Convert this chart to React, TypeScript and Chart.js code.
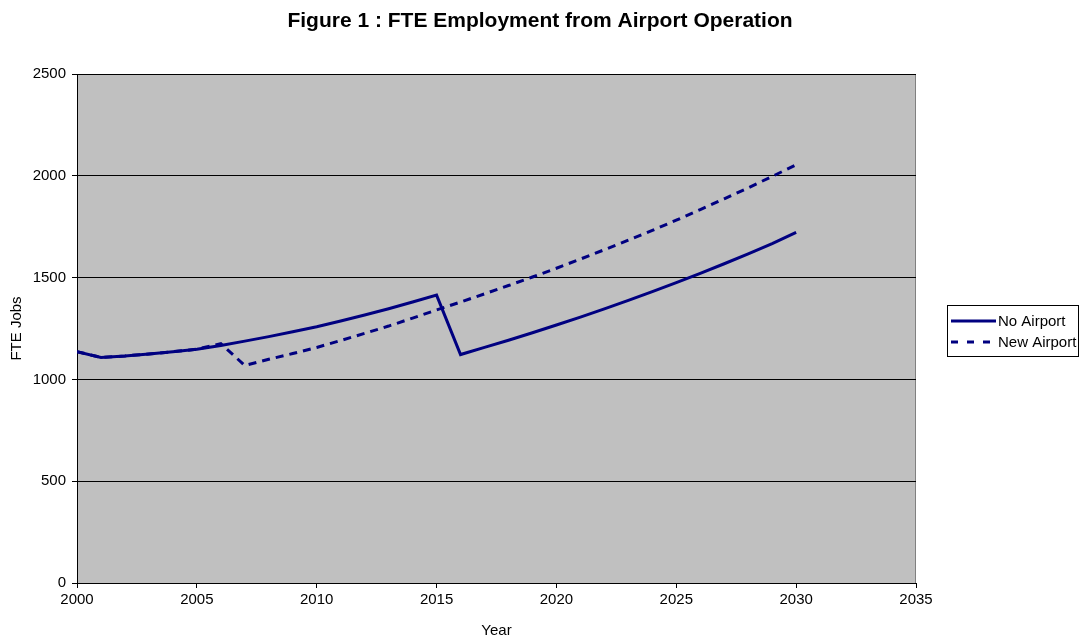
import React, { useEffect, useRef } from "react";
import { Chart, registerables } from "chart.js";

Chart.register(...registerables);

const chartTitle = "Figure 1 : FTE Employment from Airport Operation";
const xAxisTitle = "Year";
const yAxisTitle = "FTE Jobs";
const seriesNames = ["No Airport", "New Airport"];

const years = [
  2000, 2001, 2002, 2003, 2004, 2005, 2006, 2007, 2008, 2009, 2010, 2011, 2012, 2013, 2014, 2015,
  2016, 2017, 2018, 2019, 2020, 2021, 2022, 2023, 2024, 2025, 2026, 2027, 2028, 2029, 2030,
];

const noAirport = [
  1136, 1108, 1115, 1125, 1136, 1148, 1167, 1188, 1210, 1234, 1259, 1287, 1316, 1347, 1380, 1414,
  1122, 1157, 1192, 1229, 1267, 1306, 1346, 1388, 1431, 1475, 1521, 1568, 1617, 1667, 1722,
];

const newAirport = [
  1136, 1108, 1115, 1125, 1136, 1148, 1176, 1068, 1099, 1127, 1157, 1191, 1226, 1262, 1301, 1341,
  1380, 1420, 1461, 1503, 1546, 1591, 1637, 1684, 1732, 1782, 1834, 1887, 1941, 1997, 2054,
];

const xTicks = [2000, 2005, 2010, 2015, 2020, 2025, 2030, 2035];
const yTicks = [0, 500, 1000, 1500, 2000, 2500];

const FONT = "'Liberation Sans', Arial, Helvetica, sans-serif";
const NAVY = "#000080";
const SERIES_DASH = [8, 6];
const LEGEND_DASH = [7, 9];

export default function App() {
  const ref = useRef<HTMLCanvasElement>(null);

  useEffect(() => {
    document.body.style.margin = "0";
    const canvas = ref.current;
    if (!canvas) return;

    const plotBg = {
      id: "plotBg",
      beforeDraw(chart: any) {
        const { ctx, chartArea } = chart;
        const { left, top, right, bottom } = chartArea;
        ctx.save();
        ctx.fillStyle = "#C0C0C0";
        ctx.fillRect(left, top, right - left, bottom - top);
        ctx.strokeStyle = "#808080";
        ctx.lineWidth = 1;
        ctx.strokeRect(left + 0.5, top + 0.5, right - left - 1, bottom - top);
        ctx.restore();
      },
    };

    const overlay = {
      id: "overlay",
      afterDraw(chart: any) {
        const { ctx } = chart;
        ctx.save();
        // Title
        ctx.fillStyle = "#000";
        ctx.font = `bold 21px ${FONT}`;
        ctx.textAlign = "center";
        ctx.textBaseline = "middle";
        ctx.fillText(chartTitle, 540, 21);

        // Legend
        const bx = 947;
        const by = 305;
        const bw = 131;
        const bh = 51;
        ctx.fillStyle = "#FFFFFF";
        ctx.fillRect(bx, by, bw, bh);
        ctx.strokeStyle = "#000";
        ctx.lineWidth = 1;
        ctx.strokeRect(bx + 0.5, by + 0.5, bw, bh);

        const rows = [321, 342];
        chart.data.datasets.forEach((ds: any, i: number) => {
          const y = rows[i];
          ctx.strokeStyle = ds.borderColor;
          ctx.lineWidth = 3;
          ctx.setLineDash(ds.borderDash && ds.borderDash.length ? LEGEND_DASH : []);
          ctx.beginPath();
          ctx.moveTo(951, y);
          ctx.lineTo(996, y);
          ctx.stroke();
          ctx.setLineDash([]);
          ctx.fillStyle = "#000";
          ctx.font = `15px ${FONT}`;
          ctx.textAlign = "left";
          ctx.textBaseline = "middle";
          ctx.fillText(ds.label, 998, y + 1);
        });
        ctx.restore();
      },
    };

    const tickFont = { family: FONT, size: 15 };

    const chart = new Chart(canvas, {
      type: "line",
      data: {
        datasets: [
          {
            label: seriesNames[0],
            data: years.map((yr, i) => ({ x: yr, y: noAirport[i] })),
            borderColor: NAVY,
            backgroundColor: NAVY,
            borderWidth: 3,
            pointRadius: 0,
            tension: 0,
            fill: false,
          },
          {
            label: seriesNames[1],
            data: years.map((yr, i) => ({ x: yr, y: newAirport[i] })),
            borderColor: NAVY,
            backgroundColor: NAVY,
            borderWidth: 3,
            borderDash: SERIES_DASH,
            pointRadius: 0,
            tension: 0,
            fill: false,
          },
        ],
      },
      options: {
        responsive: false,
        animation: false,
        layout: { padding: { top: 74, right: 169, left: 0, bottom: 0 } },
        plugins: {
          legend: { display: false },
          title: { display: false },
          tooltip: { enabled: false },
        },
        scales: {
          x: {
            type: "linear",
            min: 2000,
            max: 2035,
            afterBuildTicks: (s: any) => {
              s.ticks = xTicks.map((v) => ({ value: v }));
            },
            afterFit: (s: any) => {
              s.height = 57;
            },
            grid: {
              drawOnChartArea: false,
              drawTicks: true,
              tickLength: 5,
              color: "#000",
              tickColor: "#000",
            },
            border: { color: "#000", width: 1 },
            ticks: {
              font: tickFont,
              color: "#000",
              padding: 3,
              maxRotation: 0,
              autoSkip: false,
              callback: (v: any) => String(v),
            },
            title: {
              display: true,
              text: xAxisTitle,
              font: tickFont,
              color: "#000",
              padding: { top: 1, bottom: 0 },
            },
          },
          y: {
            min: 0,
            max: 2500,
            afterBuildTicks: (s: any) => {
              s.ticks = yTicks.map((v) => ({ value: v }));
            },
            afterFit: (s: any) => {
              s.width = 77;
            },
            grid: {
              color: "#000",
              tickColor: "#000",
              tickLength: 5,
            },
            border: { color: "#000", width: 1 },
            ticks: {
              font: tickFont,
              color: "#000",
              padding: 6,
              callback: (v: any) => String(v),
            },
            title: {
              display: true,
              text: yAxisTitle,
              font: tickFont,
              color: "#000",
              padding: { top: 8, bottom: 0 },
            },
          },
        },
      },
      plugins: [plotBg, overlay],
    } as any);

    return () => {
      chart.destroy();
    };
  }, []);

  return (
    <div style={{ position: "absolute", left: 0, top: 0, width: 1085, height: 640, background: "#fff" }}>
      <canvas ref={ref} width={1085} height={640} style={{ display: "block", width: 1085, height: 640 }} />
    </div>
  );
}
